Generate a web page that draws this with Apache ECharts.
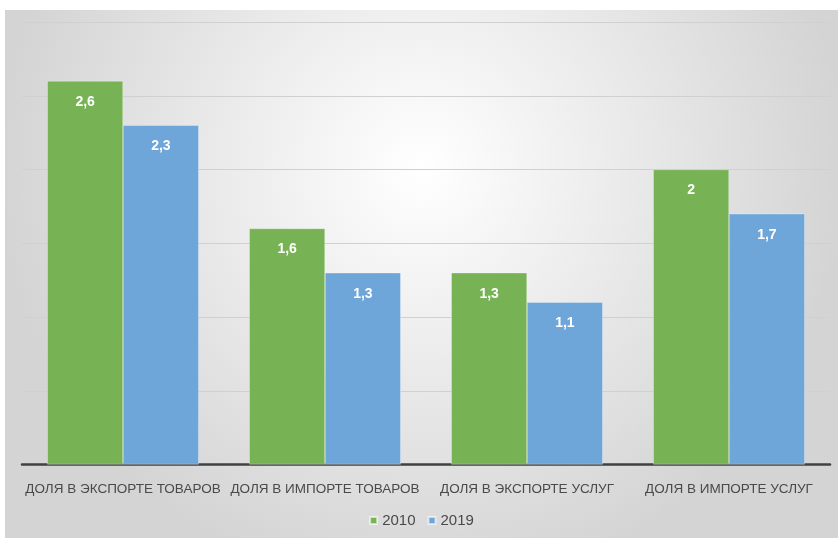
<!DOCTYPE html>
<html>
<head>
<meta charset="utf-8">
<script src="https://cdn.jsdelivr.net/npm/echarts@6/dist/echarts.min.js"></script>
<style>
html,body{margin:0;padding:0;background:#ffffff;width:838px;height:538px;overflow:hidden;}
#chart{position:absolute;left:5px;top:10px;width:833px;height:528px;}
</style>
</head>
<body>
<div id="chart"></div>
<script>
const categories = ['ДОЛЯ В ЭКСПОРТЕ ТОВАРОВ', 'ДОЛЯ В ИМПОРТЕ ТОВАРОВ', 'ДОЛЯ В ЭКСПОРТЕ УСЛУГ', 'ДОЛЯ В ИМПОРТЕ УСЛУГ'];
const seriesNames = ['2010', '2019'];
const values2010 = [2.6, 1.6, 1.3, 2];
const values2019 = [2.3, 1.3, 1.1, 1.7];

const chart = echarts.init(document.getElementById('chart'));
const labelCfg = {
  show: true,
  position: 'insideTop',
  distance: 14,
  color: '#ffffff',
  fontWeight: 'bold',
  fontSize: 14,
  fontFamily: 'Liberation Sans, Arial, sans-serif',
  formatter: p => String(p.value).replace('.', ',')
};
chart.setOption({
  backgroundColor: {
    type: 'radial', x: 0.5, y: 0.3, r: 0.8,
    colorStops: [{offset: 0, color: '#ffffff'}, {offset: 1, color: '#d4d4d4'}]
  },
  animation: false,
  grid: {left: 17, right: 8, top: 12, bottom: 73.5, containLabel: false},
  legend: {
    data: seriesNames,
    bottom: 5,
    left: 'center',
    itemWidth: 7,
    itemHeight: 7,
    itemGap: 12,
    icon: 'rect',
    textStyle: {color: '#4a4a4a', fontSize: 15, fontFamily: 'Liberation Sans Narrow, Liberation Sans, Arial, sans-serif'}
  },
  xAxis: {
    type: 'category',
    data: categories,
    axisLine: {lineStyle: {color: '#404040', width: 2.5}},
    axisTick: {show: false},
    axisLabel: {
      color: '#4a4a4a', fontSize: 13.5, margin: 18, interval: 0,
      fontFamily: 'Liberation Sans Narrow, Liberation Sans, Arial, sans-serif'
    }
  },
  yAxis: {
    type: 'value',
    min: 0, max: 3, interval: 0.5,
    axisLabel: {show: false},
    axisLine: {show: false},
    axisTick: {show: false},
    splitLine: {lineStyle: {color: '#d0d0d0', width: 1}}
  },
  series: [
    {
      name: seriesNames[0], type: 'bar', data: values2010,
      barGap: '0%', barCategoryGap: '25%',
      itemStyle: {color: '#77b255', borderColor: 'rgba(255,255,255,0.6)', borderWidth: 0.5},
      label: labelCfg
    },
    {
      name: seriesNames[1], type: 'bar', data: values2019,
      itemStyle: {color: '#6ea6da', borderColor: 'rgba(255,255,255,0.6)', borderWidth: 0.5},
      label: labelCfg
    }
  ]
});
</script>
</body>
</html>
